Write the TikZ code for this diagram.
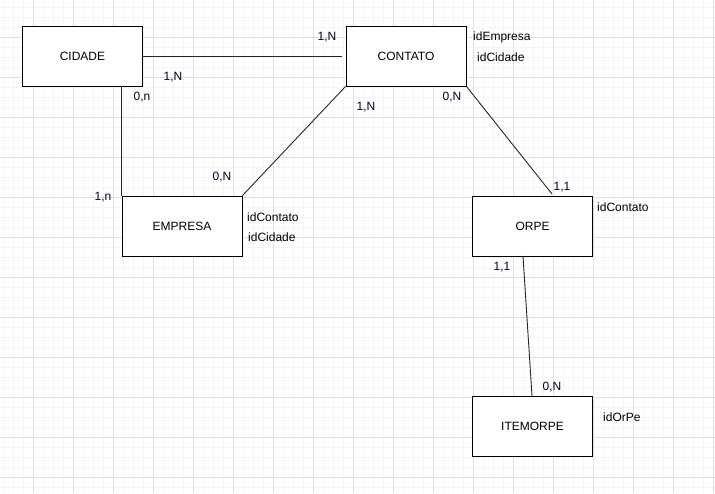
\documentclass[tikz,border=0pt]{standalone}
\usepackage{fontspec}
\setmainfont{Liberation Sans}
\begin{document}
\begin{tikzpicture}[x=1pt,y=-1pt,
  entity/.style={draw=black,line width=1pt,fill=white,minimum width=120pt,minimum height=60pt,inner sep=0pt,font=\fontsize{12}{14}\selectfont},
  card/.style={inner sep=0pt,font=\fontsize{12}{14}\selectfont,text=black!85!blue},
  attr/.style={inner sep=0pt,font=\fontsize{12}{14}\selectfont,anchor=west,text=black},
  link/.style={draw=black!85,line width=0.9pt},
  minorgrid/.style={draw=black!4,line width=0.6pt},
  majorgrid/.style={draw=black!12,line width=0.8pt}]
\useasboundingbox (0,0) rectangle (715,493);
\fill[white] (0,0) rectangle (715,493);
% grid
\foreach \x in {3,13,...,713} \draw[minorgrid] (\x,0) -- (\x,493);
\foreach \y in {7,17,...,487} \draw[minorgrid] (0,\y) -- (715,\y);
\foreach \x in {33,73,...,713} \draw[majorgrid] (\x,0) -- (\x,493);
\foreach \y in {37,77,...,477} \draw[majorgrid] (0,\y) -- (715,\y);
% entities
\node[entity] (cidade) at (82.5,56) {CIDADE};
\node[entity] (contato) at (406,56) {CONTATO};
\node[entity] (empresa) at (182,226) {EMPRESA};
\node[entity] (orpe) at (532.5,226) {ORPE};
\node[entity] (itemorpe) at (532.5,426) {ITEMORPE};
% anchor points
\coordinate (orpetop) at (552,194);
\coordinate (orpebot) at (523,256);
\coordinate (itemtop) at (532,396);
% connectors
\draw[link,shorten >=4pt] (cidade.east) -- (contato.west);
\draw[link] (empresa.north west |- cidade.south) -- (empresa.north west);
\draw[link] (contato.south west) -- (empresa.north east);
\draw[link] (contato.south east) -- (orpetop);
\draw[link] (orpebot) -- (itemtop);
% cardinalities
\node[card] (c1) at (327,37) {1,N};
\node[card] (c2) at (173,77) {1,N};
\node[card] (c3) at (142,97) {0,n};
\node[card] (c4) at (103,197) {1,n};
\node[card] (c5) at (222,177) {0,N};
\node[card] (c6) at (366,107) {1,N};
\node[card] (c7) at (452,97) {0,N};
\node[card] (c8) at (562,187) {1,1};
\node[card] (c9) at (502,267) {1,1};
\node[card] (c10) at (552,387) {0,N};
% attributes
\node[attr] (a1) at (473,37) {idEmpresa};
\node[attr] (a2) at (477,57) {idCidade};
\node[attr] (a3) at (247,217) {idContato};
\node[attr] (a4) at (248,237) {idCidade};
\node[attr] (a5) at (597,207) {idContato};
\node[attr] (a6) at (603,417) {idOrPe};
\end{tikzpicture}
\end{document}
